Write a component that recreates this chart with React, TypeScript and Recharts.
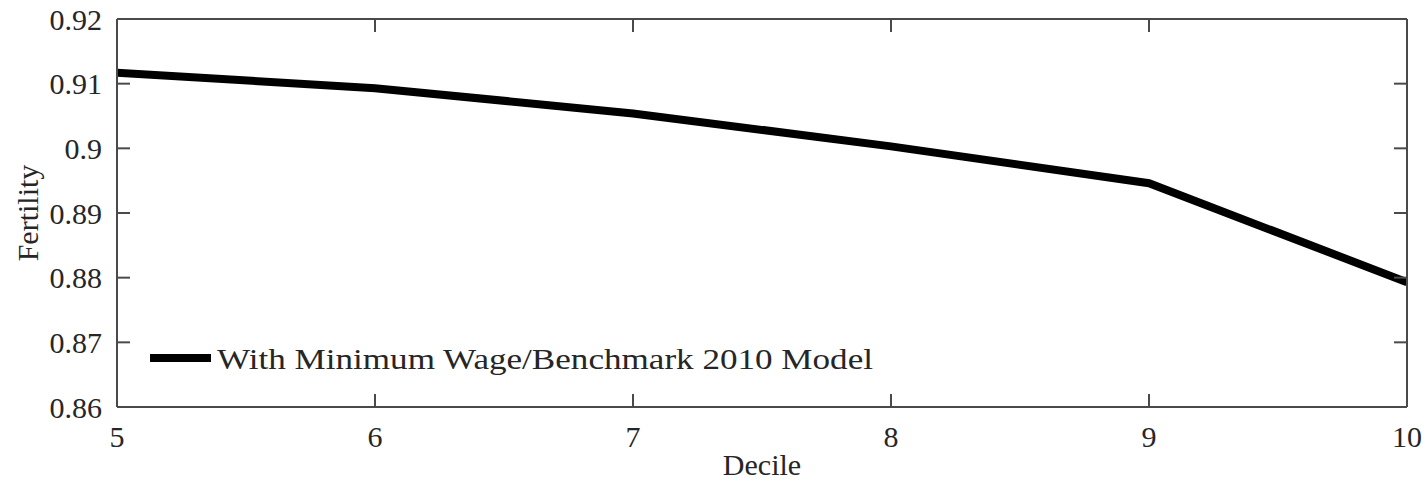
import React from 'react';
import { LineChart, Line, XAxis, YAxis, Legend, Label } from 'recharts';

const deciles = [5, 6, 7, 8, 9, 10];
const fertility = [0.9117, 0.9093, 0.9054, 0.9003, 0.8946, 0.8793];
const xTicks = [5, 6, 7, 8, 9, 10];
const yTicks = [0.86, 0.87, 0.88, 0.89, 0.9, 0.91, 0.92];
const yTickLabels = ['0.86', '0.87', '0.88', '0.89', '0.9', '0.91', '0.92'];
const seriesName = 'With Minimum Wage/Benchmark 2010 Model';

const data = deciles.map((d, i) => ({ decile: d, fertility: fertility[i] }));

const FONT = '"Liberation Serif", "DejaVu Serif", serif';
const TEXT = '#262626';
const AXIS = '#4a4a4a';

const LegendContent = () => (
  <svg width={780} height={40} style={{ display: 'block' }}>
    <line x1={2} y1={19} x2={63} y2={19} stroke="#000" strokeWidth={8} />
    <text
      x={69}
      y={30}
      fontFamily={FONT}
      fontSize={30}
      fill={TEXT}
      textLength={656}
      lengthAdjust="spacingAndGlyphs"
    >
      {seriesName}
    </text>
  </svg>
);

const Empty = () => <g />;

export default function App() {
  return (
    <div style={{ position: 'absolute', left: 0, top: 0, background: '#fff' }}>
      <LineChart
        width={1426}
        height={490}
        data={data}
        margin={{ top: 18, right: 18, bottom: 23, left: 10 }}
      >
        <XAxis
          xAxisId="bottom"
          dataKey="decile"
          type="number"
          domain={[5, 10]}
          ticks={xTicks}
          orientation="bottom"
          height={60}
          stroke={AXIS}
          strokeWidth={2}
          tickSize={-13}
          tickMargin={32}
          tick={{ fill: TEXT, fontFamily: FONT, fontSize: 30 }}
          allowDataOverflow
        >
          <Label
            value="Decile"
            position="insideBottom"
            offset={-8}
            style={{ fill: TEXT, fontFamily: FONT, fontSize: 30 }}
          />
        </XAxis>
        <XAxis
          xAxisId="top"
          dataKey="decile"
          type="number"
          domain={[5, 10]}
          ticks={xTicks}
          orientation="top"
          height={1}
          stroke={AXIS}
          strokeWidth={2}
          tickSize={-13}
          tick={Empty}
          allowDataOverflow
        />
        <YAxis
          yAxisId="left"
          type="number"
          domain={[0.86, 0.92]}
          ticks={yTicks}
          orientation="left"
          width={107}
          stroke={AXIS}
          strokeWidth={2}
          tickSize={-13}
          tickMargin={28}
          tickFormatter={(v: number) => yTickLabels[yTicks.findIndex((t) => Math.abs(t - v) < 1e-9)] ?? String(v)}
          tick={{ fill: TEXT, fontFamily: FONT, fontSize: 30 }}
          allowDataOverflow
        >
          <Label
            value="Fertility"
            angle={-90}
            position="insideLeft"
            offset={17}
            style={{ fill: TEXT, fontFamily: FONT, fontSize: 30, textAnchor: 'middle' }}
          />
        </YAxis>
        <YAxis
          yAxisId="right"
          type="number"
          domain={[0.86, 0.92]}
          ticks={yTicks}
          orientation="right"
          width={1}
          stroke={AXIS}
          strokeWidth={2}
          tickSize={-13}
          tick={Empty}
          allowDataOverflow
        />
        <Legend
          layout="horizontal"
          verticalAlign="middle"
          align="center"
          content={<LegendContent />}
          wrapperStyle={{ position: 'absolute', left: 148, top: 339, width: 780, height: 40 }}
        />
        <Line
          xAxisId="bottom"
          yAxisId="left"
          dataKey="fertility"
          name={seriesName}
          type="linear"
          stroke="#000"
          strokeWidth={8}
          dot={false}
          isAnimationActive={false}
        />
      </LineChart>
    </div>
  );
}
